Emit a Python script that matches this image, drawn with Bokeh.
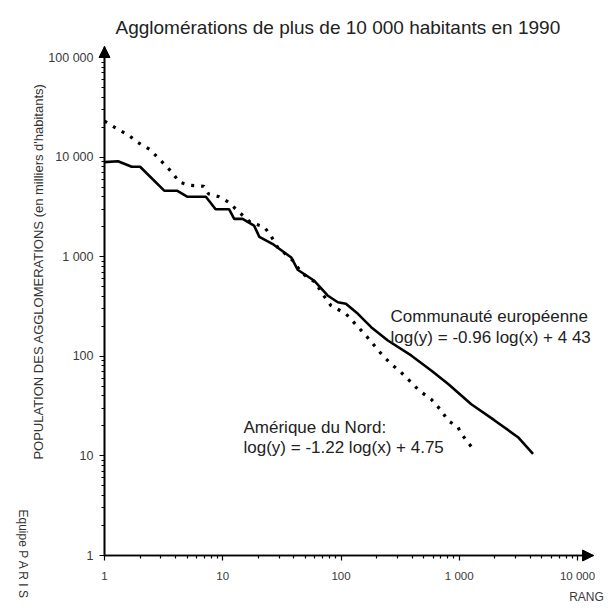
import math
from bokeh.plotting import figure
from bokeh.models import Label, Arrow, NormalHead, FixedTicker, Range1d
from bokeh.embed import file_html
from bokeh.resources import INLINE

# ---------------- data ----------------
ce_rank = [1, 1.3, 1.7, 2.0, 3.2, 4.1, 5.0, 7.2, 8.7, 11.3, 12.5, 14.7, 18.4, 20.4,
           27, 38, 43, 59, 77, 94, 110, 139, 180, 249, 392, 579, 802, 1264, 1992,
           3140, 4206]
ce_pop = [8900, 9100, 8000, 8000, 4600, 4600, 4000, 4000, 3000, 3000, 2400, 2400,
          2050, 1580, 1320, 980, 740, 577, 408, 349, 337, 267, 196, 144, 102, 72,
          53, 33, 22.7, 15.4, 10.5]

na_rank = [1, 1.3, 1.6, 1.9, 2.4, 2.8, 3.7, 4.3, 5.3, 6.9, 7.6, 9.3, 11.3, 13.3,
           17.3, 22.4, 25.5, 29, 39, 46, 52, 61, 68, 82, 110, 160, 225, 265, 322,
           379, 461, 579, 703, 802, 975, 1040, 1304]
na_pop = [23000, 19000, 16600, 14100, 12000, 10000, 7100, 5600, 5200, 5100, 4260,
          4000, 3500, 2900, 2200, 1990, 1630, 1250, 920, 700, 620, 555, 440, 324,
          267, 165, 102, 84, 69, 57, 45, 37, 28.6, 22.7, 19.4, 16.7, 11.8]

x_ticks = [1, 10, 100, 1000, 10000]
x_tick_labels = ["1", "10", "100", "1 000", "10 000"]
y_ticks = [1, 10, 100, 1000, 10000, 100000]
y_tick_labels = ["1", "10", "100", "1 000", "10 000", "100 000"]

title_text = "Agglomérations de plus de 10 000 habitants en 1990"
y_label_text = "POPULATION DES AGGLOMERATIONS (en milliers d'habitants)"
x_label_text = "RANG"
credit_text = "Equipe P A R I S"
ce_name = "Communauté européenne"
ce_fit = "log(y) = -0.96 log(x) + 4 43"
na_name = "Amérique du Nord:"
na_fit = "log(y) = -1.22 log(x) + 4.75"

# ---------------- layout ----------------
FONT = "Liberation Sans"
W, H = 608, 607
X0, Y0 = 104, 555            # page position of the axes origin (1, 1)
XD, YD = 118.25, 99.6        # pixels per decade
X_END = 10 ** 4.136          # end of the x axis (arrow tip)
Y_END = 10 ** 5.11           # end of the y axis (arrow tip)

p = figure(width=W, height=H, x_axis_type="log", y_axis_type="log",
           x_range=Range1d(10 ** (-X0 / XD), 10 ** ((W - X0) / XD)),
           y_range=Range1d(10 ** ((Y0 - H) / YD), 10 ** (Y0 / YD)),
           output_backend="svg", toolbar_location=None,
           min_border=0, min_border_left=0, min_border_right=0,
           min_border_top=0, min_border_bottom=0)
p.xgrid.visible = False
p.ygrid.visible = False
p.outline_line_color = None

minor = lambda top: [k * 10 ** d for d in range(0, top) for k in range(2, 10)]
p.xaxis.ticker = FixedTicker(ticks=x_ticks, minor_ticks=minor(5))
p.yaxis.ticker = FixedTicker(ticks=y_ticks, minor_ticks=minor(5))
p.xaxis.major_label_overrides = {t: l for t, l in zip(x_ticks, x_tick_labels)}
p.yaxis.major_label_overrides = {t: l for t, l in zip(y_ticks, y_tick_labels)}
p.xaxis.fixed_location = 1
p.yaxis.fixed_location = 1
p.xaxis.bounds = (1, X_END)
p.yaxis.bounds = (1, Y_END)

for ax in (p.xaxis, p.yaxis):
    ax.axis_line_color = "black"
    ax.axis_line_width = 1.6
    ax.major_tick_line_color = "black"
    ax.minor_tick_line_color = "black"
    ax.major_tick_line_width = 1.2
    ax.minor_tick_line_width = 1.2
    ax.major_tick_in = 0
    ax.minor_tick_in = 0
    ax.major_tick_out = 5
    ax.minor_tick_out = 3
    ax.major_label_text_font = FONT
    ax.major_label_text_color = "#3a3a3a"
p.xaxis.major_label_text_font_size = "11.5px"
p.yaxis.major_label_text_font_size = "12.5px"
p.xaxis.major_label_standoff = 9
p.yaxis.major_label_standoff = 6

# curves
p.line(ce_rank, ce_pop, line_color="black", line_width=2.6)
p.line(na_rank, na_pop, line_color="black", line_width=3.2, line_dash="3 7")

# axis arrows
p.add_layout(Arrow(end=NormalHead(size=11, fill_color="black", line_color="black"),
                   x_start=1, y_start=1, x_end=1, y_end=Y_END,
                   line_color="black", line_width=1.6))
p.add_layout(Arrow(end=NormalHead(size=11, fill_color="black", line_color="black"),
                   x_start=1, y_start=1, x_end=X_END, y_end=1,
                   line_color="black", line_width=1.6))


def label(px, py, text, size, **kw):
    """text annotation placed by page pixel (frame covers the whole canvas)"""
    lab = Label(x=px, y=H - py, x_units="screen", y_units="screen",
                text=text, text_font=FONT, text_font_size=size,
                text_color=kw.pop("color", "#222222"), **kw)
    p.add_layout(lab)


label(115, 27, title_text, "19px", text_baseline="alphabetic")
label(390, 316, ce_name, "17px", text_baseline="alphabetic")
label(390, 337, ce_fit, "17px", text_baseline="alphabetic")
label(243, 427, na_name, "17px", text_baseline="alphabetic")
label(243, 447, na_fit, "17px", text_baseline="alphabetic")
label(37.5, 271, y_label_text, "13px", angle=math.pi / 2, text_align="center",
      text_baseline="middle", color="#333333")
label(22, 509, credit_text, "12px", angle=-math.pi / 2, text_align="left",
      text_baseline="middle", color="#333333")
label(586, 596, x_label_text, "12px", text_align="center", text_baseline="middle",
      color="#3a3a3a")

open("out.html", "w").write(file_html(p, INLINE))
